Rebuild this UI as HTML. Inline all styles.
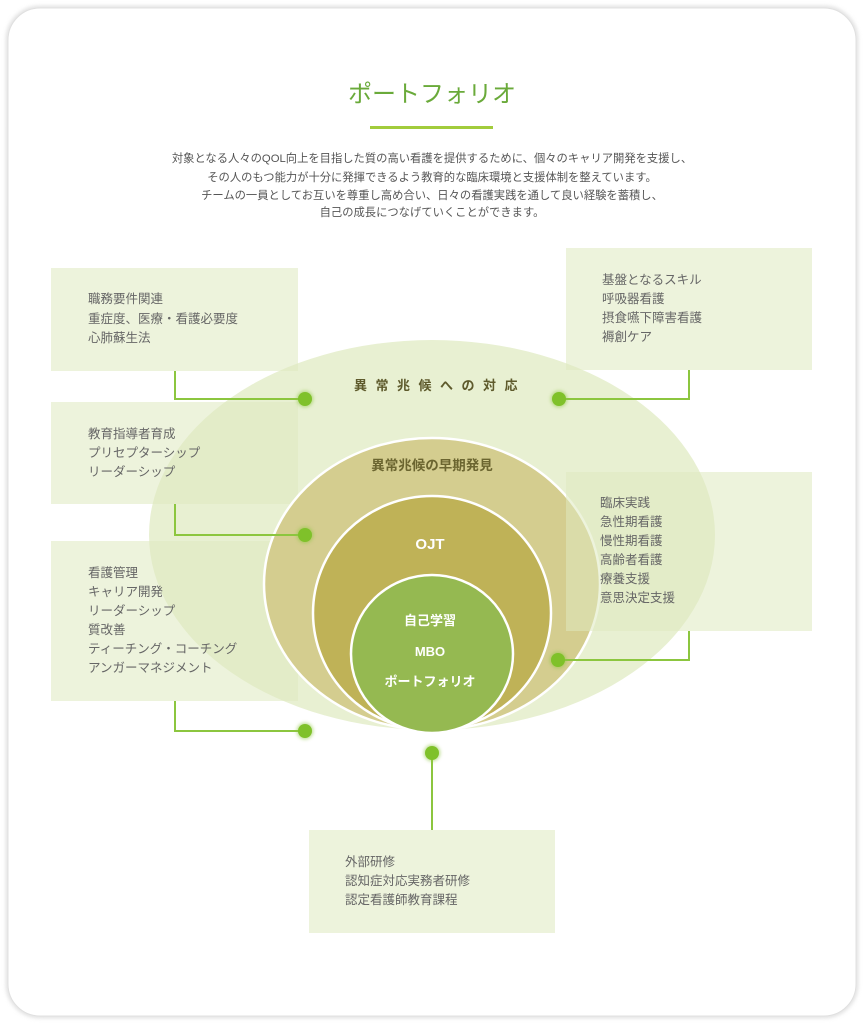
<!DOCTYPE html>
<html><head><meta charset="utf-8">
<style>
html,body{margin:0;padding:0;background:#fff;}
body{width:864px;height:1024px;overflow:hidden;font-family:"Liberation Sans","Noto Sans CJK JP",sans-serif;}
</style></head>
<body>
<svg width="864" height="1024" viewBox="0 0 864 1024" xmlns="http://www.w3.org/2000/svg" font-family="Liberation Sans, Noto Sans CJK JP, sans-serif">
<defs>
<filter id="glow" x="-1" y="-1" width="3" height="3"><feGaussianBlur stdDeviation="1.5"/></filter>
<filter id="sh" x="-0.05" y="-0.05" width="1.1" height="1.1"><feGaussianBlur stdDeviation="2"/></filter>
</defs>
<rect x="0" y="0" width="864" height="1024" fill="#fff"/>
<rect x="8" y="8" width="848" height="1008" rx="32" fill="none" stroke="#d0d0d0" stroke-width="3" filter="url(#sh)"/>
<rect x="8" y="8" width="848" height="1008" rx="32" fill="#fff" stroke="#e0e0e0" stroke-width="1"/>

<text x="432" y="102" text-anchor="middle" font-size="24" fill="#6aaa3a">ポートフォリオ</text>
<rect x="370" y="126" width="123" height="3" fill="#a2cc3c"/>
<g font-size="11.3" fill="#555" text-anchor="middle">
<text x="432" y="162">対象となる人々のQOL向上を目指した質の高い看護を提供するために、個々のキャリア開発を支援し、</text>
<text x="432" y="181">その人のもつ能力が十分に発揮できるよう教育的な臨床環境と支援体制を整えています。</text>
<text x="432" y="199">チームの一員としてお互いを尊重し高め合い、日々の看護実践を通して良い経験を蓄積し、</text>
<text x="432" y="216">自己の成長につなげていくことができます。</text>
</g>

<ellipse cx="432" cy="535" rx="283" ry="195" fill="#e8f0d2"/>

<g fill="#dfeabf" fill-opacity="0.55">
<rect x="51" y="268" width="247" height="103"/>
<rect x="51" y="402" width="247" height="102"/>
<rect x="51" y="541" width="247" height="160"/>
<rect x="566" y="248" width="246" height="122"/>
<rect x="309" y="830" width="246" height="103"/>
</g>

<ellipse cx="432" cy="584" rx="168" ry="146" fill="#d4cd8f" stroke="#fff" stroke-width="2.5"/>
<rect x="566" y="472" width="246" height="159" fill="#dfeabf" fill-opacity="0.55"/>
<ellipse cx="432" cy="613" rx="119" ry="117" fill="#bfb257" stroke="#fff" stroke-width="2.5"/>
<ellipse cx="432" cy="654" rx="81" ry="79" fill="#95b951" stroke="#fff" stroke-width="2.5"/>

<text x="440" y="390" text-anchor="middle" font-size="13" font-weight="bold" fill="#5e5a2c" letter-spacing="8.5">異常兆候への対応</text>
<text x="432" y="470" text-anchor="middle" font-size="13.5" font-weight="bold" fill="#6b6530">異常兆候の早期発見</text>
<text x="430" y="549" text-anchor="middle" font-size="15" font-weight="bold" fill="#fff">OJT</text>
<g font-size="13" font-weight="bold" fill="#fff" text-anchor="middle">
<text x="430" y="625">自己学習</text>
<text x="430" y="656">MBO</text>
<text x="430" y="686">ポートフォリオ</text>
</g>

<g font-size="12.5" fill="#666">
<text x="88" y="303">職務要件関連</text>
<text x="88" y="323">重症度、医療・看護必要度</text>
<text x="88" y="342">心肺蘇生法</text>
<text x="88" y="438">教育指導者育成</text>
<text x="88" y="457">プリセプターシップ</text>
<text x="88" y="476">リーダーシップ</text>
<text x="88" y="577">看護管理</text>
<text x="88" y="596">キャリア開発</text>
<text x="88" y="615">リーダーシップ</text>
<text x="88" y="634">質改善</text>
<text x="88" y="653">ティーチング・コーチング</text>
<text x="88" y="672">アンガーマネジメント</text>
<text x="602" y="284">基盤となるスキル</text>
<text x="602" y="303">呼吸器看護</text>
<text x="602" y="322">摂食嚥下障害看護</text>
<text x="602" y="341">褥創ケア</text>
<text x="600" y="507">臨床実践</text>
<text x="600" y="526">急性期看護</text>
<text x="600" y="545">慢性期看護</text>
<text x="600" y="564">高齢者看護</text>
<text x="600" y="583">療養支援</text>
<text x="600" y="602">意思決定支援</text>
<text x="345" y="866">外部研修</text>
<text x="345" y="885">認知症対応実務者研修</text>
<text x="345" y="904">認定看護師教育課程</text>
</g>

<g fill="none" stroke="#8cc63f" stroke-width="2">
<polyline points="175,371 175,399 305,399"/>
<polyline points="175,504 175,535 305,535"/>
<polyline points="175,701 175,731 305,731"/>
<polyline points="689,370 689,399 559,399"/>
<polyline points="689,631 689,660 558,660"/>
<polyline points="432,753 432,830"/>
</g>
<g>
<g fill="#8cc63f" opacity="0.5" filter="url(#glow)">
<circle cx="305" cy="399" r="8.5"/><circle cx="305" cy="535" r="8.5"/><circle cx="305" cy="731" r="8.5"/>
<circle cx="559" cy="399" r="8.5"/><circle cx="558" cy="660" r="8.5"/><circle cx="432" cy="753" r="8.5"/>
</g>
<g fill="#7fc12a">
<circle cx="305" cy="399" r="7"/><circle cx="305" cy="535" r="7"/><circle cx="305" cy="731" r="7"/>
<circle cx="559" cy="399" r="7"/><circle cx="558" cy="660" r="7"/><circle cx="432" cy="753" r="7"/>
</g>
</g>
</svg>
</body></html>
